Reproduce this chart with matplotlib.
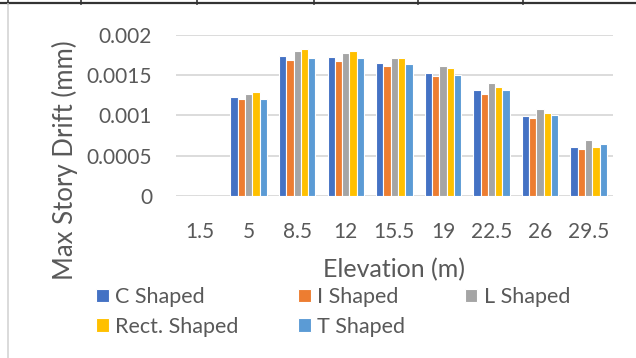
import matplotlib
matplotlib.use("Agg")
import matplotlib.pyplot as plt
from matplotlib.lines import Line2D
import numpy as np

plt.rcParams['font.family'] = ['Lato', 'DejaVu Sans']

elevations = ["1.5", "5", "8.5", "12", "15.5", "19", "22.5", "26", "29.5"]
series_names = ["C Shaped", "I Shaped", "L Shaped", "Rect. Shaped", "T Shaped"]
c_shaped = [0, 0.001223, 0.001740, 0.001720, 0.001654, 0.001526, 0.001310, 0.000988, 0.000603]
i_shaped = [0, 0.001203, 0.001695, 0.001675, 0.001613, 0.001484, 0.001269, 0.000968, 0.000583]
l_shaped = [0, 0.001269, 0.001800, 0.001782, 0.001716, 0.001613, 0.001397, 0.001074, 0.000690]
rect_shaped = [0, 0.001290, 0.001824, 0.001800, 0.001716, 0.001588, 0.001352, 0.001034, 0.000603]
t_shaped = [0, 0.001203, 0.001716, 0.001716, 0.001633, 0.001505, 0.001310, 0.001009, 0.000645]
series = [c_shaped, i_shaped, l_shaped, rect_shaped, t_shaped]
colors = ["#4472C4", "#ED7D31", "#A5A5A5", "#FFC000", "#5B9BD5"]
yticks = [0, 0.0005, 0.001, 0.0015, 0.002]
ytick_labels = ["0", "0.0005", "0.001", "0.0015", "0.002"]

W, H = 636, 358
fig = plt.figure(figsize=(W / 100, H / 100), dpi=100)
ax = fig.add_axes([175.7 / W, 1 - 195.7 / H, (613 - 175.7) / W, (195.7 - 35) / H])

x = np.arange(len(elevations))
bw = 0.15
for i, (vals, col, name) in enumerate(zip(series, colors, series_names)):
    ax.bar(x + (i - 2) * bw, vals, width=bw, color=col, edgecolor="white",
           linewidth=0.8, label=name, zorder=3)

ax.set_xlim(-0.5, len(elevations) - 0.5)
ax.set_ylim(0, 0.002)
ax.set_yticks(yticks)
ax.set_yticklabels(ytick_labels)
ax.set_xticks(x)
ax.set_xticklabels(elevations)
ax.grid(axis="y", color="#D9D9D9", linewidth=1.3, zorder=0)
for s in ax.spines.values():
    s.set_visible(False)
ax.tick_params(axis="both", length=0, colors="#595959", labelsize=15)
ax.tick_params(axis="y", pad=17)
ax.tick_params(axis="x", pad=19)
ax.set_xlabel("Elevation (m)", fontsize=18, color="#595959")
ax.xaxis.set_label_coords(0.5, (195.7 - 270) / 160.7)
ax.xaxis.label.set_va("center")
ax.set_ylabel("Max Story Drift (mm)", fontsize=18.5, color="#595959")
ax.yaxis.set_label_coords((65 - 175.7) / 437.3, (195.7 - 160) / 160.7)
ax.yaxis.label.set_va("center")

handles, labels = ax.get_legend_handles_labels()
order = [0, 3, 1, 4, 2]
leg = fig.legend([handles[k] for k in order], [labels[k] for k in order],
                 ncol=3, loc="upper left", bbox_to_anchor=(96 / W, 1 - 287 / H),
                 frameon=False, fontsize=15.5, handlelength=0.6, handleheight=0.6,
                 handletextpad=0.3, columnspacing=2.75, labelspacing=0.45,
                 borderpad=0, borderaxespad=0)
for t in leg.get_texts():
    t.set_color("#595959")

# page/table decorations
fig.add_artist(Line2D([0, 1], [1 - 3 / H, 1 - 3 / H], color="#333333", linewidth=1.6,
                      transform=fig.transFigure))
for xv in [8, 81, 197, 314, 418, 523]:
    fig.add_artist(Line2D([xv / W, xv / W], [1, 1 - 4 / H], color="#333333", linewidth=1.2,
                          transform=fig.transFigure))
fig.add_artist(Line2D([8 / W, 8 / W], [0, 1 - 4 / H], color="#D4D4D4", linewidth=1.2,
                      transform=fig.transFigure))

fig.savefig("out.png", dpi=100)
